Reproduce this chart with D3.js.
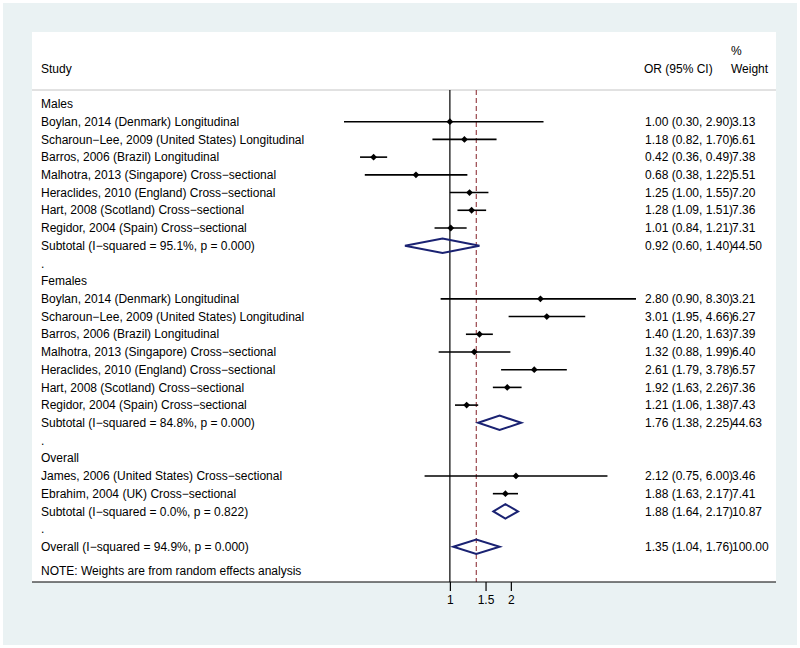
<!DOCTYPE html>
<html>
<head>
<meta charset="utf-8">
<script src="https://cdn.jsdelivr.net/npm/d3@7"></script>
<style>
  html, body { margin: 0; padding: 0; background: #ffffff; }
  svg { display: block; }
  text { font-family: "Liberation Sans", Arial, Helvetica, sans-serif; }
</style>
</head>
<body>
<svg id="chart" width="800" height="648"></svg>
<script>
// ---- Data ----
const labels = [
  "Males",
  "Boylan, 2014 (Denmark) Longitudinal",
  "Scharoun\u2212Lee, 2009 (United States) Longitudinal",
  "Barros, 2006 (Brazil) Longitudinal",
  "Malhotra, 2013 (Singapore) Cross\u2212sectional",
  "Heraclides, 2010 (England) Cross\u2212sectional",
  "Hart, 2008 (Scotland) Cross\u2212sectional",
  "Regidor, 2004 (Spain) Cross\u2212sectional",
  "Subtotal  (I\u2212squared = 95.1%, p = 0.000)",
  ".",
  "Females",
  "Boylan, 2014 (Denmark) Longitudinal",
  "Scharoun\u2212Lee, 2009 (United States) Longitudinal",
  "Barros, 2006 (Brazil) Longitudinal",
  "Malhotra, 2013 (Singapore) Cross\u2212sectional",
  "Heraclides, 2010 (England) Cross\u2212sectional",
  "Hart, 2008 (Scotland) Cross\u2212sectional",
  "Regidor, 2004 (Spain) Cross\u2212sectional",
  "Subtotal  (I\u2212squared = 84.8%, p = 0.000)",
  ".",
  "Overall",
  "James, 2006 (United States) Cross\u2212sectional",
  "Ebrahim, 2004 (UK) Cross\u2212sectional",
  "Subtotal  (I\u2212squared = 0.0%, p = 0.822)",
  ".",
  "Overall  (I\u2212squared = 94.9%, p = 0.000)"
];
// h = group heading, s = study, d = pooled diamond, b = blank row
const rowTypes = ["h","s","s","s","s","s","s","s","d","b",
                  "h","s","s","s","s","s","s","s","d","b",
                  "h","s","s","d","b","d"];
const orValues = [null,1.00,1.18,0.42,0.68,1.25,1.28,1.01,0.92,null,
                  null,2.80,3.01,1.40,1.32,2.61,1.92,1.21,1.76,null,
                  null,2.12,1.88,1.88,null,1.35];
const lowerCI  = [null,0.30,0.82,0.36,0.38,1.00,1.09,0.84,0.60,null,
                  null,0.90,1.95,1.20,0.88,1.79,1.63,1.06,1.38,null,
                  null,0.75,1.63,1.64,null,1.04];
const upperCI  = [null,2.90,1.70,0.49,1.22,1.55,1.51,1.21,1.40,null,
                  null,8.30,4.66,1.63,1.99,3.78,2.26,1.38,2.25,null,
                  null,6.00,2.17,2.17,null,1.76];
const weights  = [null,3.13,6.61,7.38,5.51,7.20,7.36,7.31,44.50,null,
                  null,3.21,6.27,7.39,6.40,6.57,7.36,7.43,44.63,null,
                  null,3.46,7.41,10.87,null,100.00];
const nullValue = 1;
const overallOR = 1.35;
const xTicks = [1, 1.5, 2];
const xDomain = [0.30, 8.30];
const noteText = "NOTE: Weights are from random effects analysis";

// ---- Layout ----
const svg = d3.select("#chart");
const W = 800, H = 648;
const panel = {x0: 32, x1: 776, y0: 32, y1: 582};
const headerLineY = 90;

svg.append("rect").attr("x", 0).attr("y", 0).attr("width", W).attr("height", H).attr("fill", "#ffffff");
svg.append("rect").attr("x", 3).attr("y", 3).attr("width", W - 6).attr("height", H - 6).attr("fill", "#eaf2f3");
svg.append("rect").attr("x", panel.x0).attr("y", panel.y0)
  .attr("width", panel.x1 - panel.x0).attr("height", panel.y1 - panel.y0).attr("fill", "#ffffff");

const x = d3.scaleLog().domain(xDomain).range([344, 636]);
const y = d3.scaleLinear().domain([0, labels.length - 1]).range([104, 546.8]);

const fs = 12;
const colOR = 645, colW = 731;
// Header
const header = svg.append("g").attr("font-size", fs).attr("fill", "#000");
header.append("text").attr("x", 41).attr("y", 69).attr("dy", "0.35em").text("Study");
header.append("text").attr("x", colOR - 1).attr("y", 69).attr("dy", "0.35em").text("OR (95% CI)");
header.append("text").attr("x", colW).attr("y", 69).attr("dy", "0.35em").text("Weight");
header.append("text").attr("x", colW).attr("y", 51).attr("dy", "0.35em").text("%");

svg.append("line").attr("x1", panel.x0).attr("x2", panel.x1)
  .attr("y1", headerLineY).attr("y2", headerLineY)
  .attr("stroke", "#c4c4c4").attr("stroke-width", 1);

// Reference lines
svg.append("line").attr("x1", x(nullValue)).attr("x2", x(nullValue))
  .attr("y1", headerLineY).attr("y2", panel.y1)
  .attr("stroke", "#000").attr("stroke-width", 1.2);
svg.append("line").attr("x1", x(overallOR)).attr("x2", x(overallOR))
  .attr("y1", headerLineY).attr("y2", panel.y1)
  .attr("stroke", "#90353b").attr("stroke-width", 1.1)
  .attr("stroke-dasharray", "5,3");

const rows = labels.map((l, i) => ({
  label: l, type: rowTypes[i], or: orValues[i], lo: lowerCI[i], hi: upperCI[i], w: weights[i], i
}));

// Labels
svg.append("g").attr("font-size", fs).selectAll("text").data(rows).join("text")
  .attr("x", 41).attr("y", d => y(d.i)).attr("dy", "0.35em").text(d => d.label);

// CI text
const f2 = d3.format(".2f");
const dataRows = rows.filter(d => d.or !== null);
svg.append("g").attr("font-size", fs).selectAll("text").data(dataRows).join("text")
  .attr("x", colOR).attr("y", d => y(d.i)).attr("dy", "0.35em")
  .text(d => `${f2(d.or)} (${f2(d.lo)}, ${f2(d.hi)})`);
svg.append("g").attr("font-size", fs).selectAll("text").data(dataRows).join("text")
  .attr("x", colW + 1)
  .attr("y", d => y(d.i)).attr("dy", "0.35em")
  .text(d => f2(d.w));

// Study CIs and markers
const studies = rows.filter(d => d.type === "s");
svg.append("g").selectAll("line").data(studies).join("line")
  .attr("x1", d => x(d.lo)).attr("x2", d => x(d.hi))
  .attr("y1", d => y(d.i)).attr("y2", d => y(d.i))
  .attr("stroke", "#000").attr("stroke-width", 1.6);
const m = 3.4;
svg.append("g").selectAll("path").data(studies).join("path")
  .attr("d", d => {
    const cx = x(d.or), cy = y(d.i);
    return `M${cx},${cy - m}L${cx + m},${cy}L${cx},${cy + m}L${cx - m},${cy}Z`;
  })
  .attr("fill", "#000");

// Pooled diamonds
const pooled = rows.filter(d => d.type === "d");
const dh = 7.2;
svg.append("g").selectAll("path").data(pooled).join("path")
  .attr("d", d => {
    const cy = y(d.i);
    return `M${x(d.lo)},${cy}L${x(d.or)},${cy - dh}L${x(d.hi)},${cy}L${x(d.or)},${cy + dh}Z`;
  })
  .attr("fill", "none").attr("stroke", "#1a2272").attr("stroke-width", 2)
  .attr("stroke-linejoin", "miter");

// Note
svg.append("text").attr("font-size", fs).attr("x", 41).attr("y", 571).attr("dy", "0.35em").text(noteText);

// Axis
svg.append("line").attr("x1", panel.x0).attr("x2", panel.x1)
  .attr("y1", panel.y1).attr("y2", panel.y1)
  .attr("stroke", "#000").attr("stroke-width", 1.2);
const axis = d3.axisBottom(x).tickValues(xTicks).tickSize(9).tickPadding(4)
  .tickFormat(d3.format("~g"));
const ag = svg.append("g").attr("transform", `translate(0,${panel.y1})`).call(axis);
ag.select(".domain").remove();
ag.selectAll(".tick line").attr("stroke", "#000").attr("stroke-width", 1.2);
ag.selectAll(".tick text").attr("font-size", fs).attr("fill", "#000")
  .attr("font-family", "Liberation Sans, Arial, sans-serif");
</script>
</body>
</html>
